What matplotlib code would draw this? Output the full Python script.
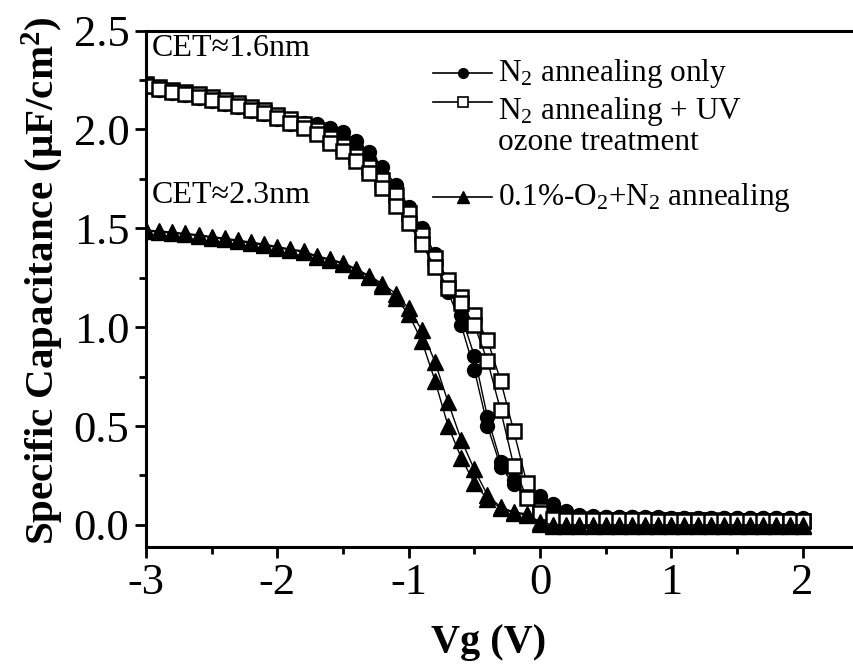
import numpy as np
import matplotlib.pyplot as plt

plt.rcParams['font.family'] = ['Liberation Serif', 'DejaVu Serif']
plt.rcParams['mathtext.fontset'] = 'custom'
plt.rcParams['mathtext.rm'] = 'Liberation Serif'
plt.rcParams['mathtext.it'] = 'Liberation Serif:italic'
plt.rcParams['mathtext.bf'] = 'Liberation Serif:bold'

# gate voltage sweep (V)
vg = [-3.0, -2.9, -2.8, -2.7, -2.6, -2.5, -2.4, -2.3, -2.2, -2.1,
      -2.0, -1.9, -1.8, -1.7, -1.6, -1.5, -1.4, -1.3, -1.2, -1.1,
      -1.0, -0.9, -0.8, -0.7, -0.6, -0.5, -0.4, -0.3, -0.2, -0.1,
      0.0, 0.1, 0.2, 0.3, 0.4, 0.5, 0.6, 0.7, 0.8, 0.9,
      1.0, 1.1, 1.2, 1.3, 1.4, 1.5, 1.6, 1.7, 1.8, 1.9, 2.0]

# N2 annealing only (two sweep directions)
n2_a = [2.225, 2.21, 2.195, 2.185, 2.175, 2.16, 2.145, 2.13, 2.11, 2.095,
        2.07, 2.05, 2.035, 2.03, 2.005, 1.985, 1.94, 1.885, 1.81, 1.72,
        1.61, 1.50, 1.37, 1.23, 1.06, 0.855, 0.545, 0.32, 0.225, 0.18,
        0.145, 0.105, 0.07, 0.052, 0.045, 0.042, 0.04, 0.04, 0.038, 0.038,
        0.037, 0.037, 0.036, 0.036, 0.035, 0.035, 0.035, 0.034, 0.034, 0.034, 0.033]
n2_b = [2.215, 2.20, 2.185, 2.175, 2.16, 2.145, 2.13, 2.115, 2.095, 2.08,
        2.055, 2.03, 2.01, 2.01, 1.98, 1.955, 1.91, 1.85, 1.77, 1.68,
        1.58, 1.465, 1.33, 1.18, 1.01, 0.785, 0.50, 0.295, 0.205, 0.16,
        0.125, 0.09, 0.06, 0.047, 0.042, 0.04, 0.038, 0.038, 0.037, 0.036,
        0.036, 0.035, 0.035, 0.035, 0.034, 0.034, 0.034, 0.033, 0.033, 0.033, 0.032]

# N2 annealing + UV ozone treatment
uv_a = [2.23, 2.215, 2.20, 2.19, 2.18, 2.165, 2.15, 2.135, 2.115, 2.10,
        2.075, 2.055, 2.03, 1.995, 1.955, 1.915, 1.865, 1.81, 1.745, 1.67,
        1.575, 1.465, 1.35, 1.24, 1.155, 1.06, 0.935, 0.73, 0.475, 0.21,
        0.075, 0.035, 0.03, 0.028, 0.026, 0.025, 0.025, 0.024, 0.024, 0.023,
        0.023, 0.022, 0.022, 0.022, 0.021, 0.021, 0.021, 0.02, 0.02, 0.02, 0.02]
uv_b = [2.22, 2.205, 2.19, 2.18, 2.165, 2.15, 2.135, 2.12, 2.10, 2.085,
        2.06, 2.035, 2.01, 1.975, 1.93, 1.89, 1.84, 1.78, 1.705, 1.615,
        1.525, 1.42, 1.305, 1.20, 1.12, 1.01, 0.83, 0.58, 0.30, 0.135,
        0.06, 0.03, 0.027, 0.025, 0.024, 0.023, 0.023, 0.022, 0.022, 0.021,
        0.021, 0.021, 0.02, 0.02, 0.02, 0.019, 0.019, 0.019, 0.018, 0.018, 0.018]

# 0.1%-O2+N2 annealing
o2_a = [1.49, 1.487, 1.48, 1.474, 1.467, 1.458, 1.45, 1.44, 1.43, 1.42,
        1.407, 1.395, 1.385, 1.36, 1.345, 1.325, 1.295, 1.26, 1.22, 1.17,
        1.095, 0.985, 0.825, 0.62, 0.43, 0.28, 0.15, 0.09, 0.065, 0.055,
        0.015, 0.0, 0.0, 0.0, 0.0, 0.0, 0.0, 0.0, 0.0, 0.0,
        0.0, 0.0, 0.0, 0.0, 0.0, 0.0, 0.0, 0.0, 0.0, 0.0, 0.0]
o2_b = [1.485, 1.482, 1.475, 1.469, 1.462, 1.453, 1.445, 1.435, 1.425, 1.415,
        1.402, 1.39, 1.38, 1.355, 1.34, 1.32, 1.29, 1.255, 1.21, 1.15,
        1.065, 0.93, 0.73, 0.50, 0.34, 0.21, 0.13, 0.085, 0.06, 0.05,
        0.005, -0.005, -0.005, -0.005, -0.005, -0.005, -0.005, -0.005, -0.005, -0.005,
        -0.005, -0.005, -0.005, -0.005, -0.005, -0.005, -0.005, -0.005, -0.005, -0.005, -0.005]

labels = ['N$_2$ annealing only',
          'N$_2$ annealing + UV\nozone treatment',
          '0.1%-O$_2$+N$_2$ annealing']

fig = plt.figure(figsize=(8.54, 6.66), dpi=100)
ax = fig.add_axes([0.171, 0.179, 0.835, 0.775])

circ = dict(marker='o', ms=10, mfc='k', mec='k', color='k', lw=1)
sq = dict(marker='s', ms=10, mfc='white', mec='k', mew=1.8, color='k', lw=1)
tri = dict(marker='^', ms=11, mfc='k', mec='k', color='k', lw=1)

for y in (n2_a, n2_b):
    ax.plot(vg, y, **circ)
for y in (uv_a, uv_b):
    ax.plot(vg, y, **sq)
for y in (o2_a, o2_b):
    ax.plot(vg, y, **tri)

ax.set_xlim(-3, 2.43)
ax.set_ylim(-0.111, 2.5)
ax.set_xticks([-3, -2, -1, 0, 1, 2])
ax.set_xticklabels(['-3', '-2', '-1', '0', '1', '2'])
ax.set_xticks([-2.5, -1.5, -0.5, 0.5, 1.5], minor=True)
ax.set_yticks([0.0, 0.5, 1.0, 1.5, 2.0, 2.5])
ax.set_yticklabels(['0.0', '0.5', '1.0', '1.5', '2.0', '2.5'])
ax.set_yticks([0.25, 0.75, 1.25, 1.75, 2.25], minor=True)
ax.tick_params(which='major', direction='out', length=8, width=2,
               labelsize=32, pad=4, top=False, right=False)
ax.tick_params(which='minor', direction='out', length=5, width=2,
               top=False, right=False)
for s in ax.spines.values():
    s.set_linewidth(2.2)
ax.spines['right'].set_visible(False)

ax.set_xlabel('Vg (V)', fontsize=29, fontweight='bold')
ax.xaxis.set_label_coords(0.48, -0.15)
ax.set_ylabel('Specific Capacitance (\u03bcF/cm$^\\mathbf{2}$)', fontsize=29.5,
              fontweight='bold')
ax.yaxis.set_label_coords(-0.112, 0.516)

ax.text(0.008, 0.965, 'CET\u22481.6nm', transform=ax.transAxes, fontsize=23,
        va='center', ha='left')
ax.text(0.008, 0.68, 'CET\u22482.3nm', transform=ax.transAxes, fontsize=23,
        va='center', ha='left')

# hand-placed legend
leg_y = [0.917, 0.861, 0.677]
leg_styles = [dict(marker='o', ms=7, mfc='k', mec='k'),
              dict(marker='s', ms=6.5, mfc='white', mec='k', mew=1.2),
              dict(marker='^', ms=8, mfc='k', mec='k')]
for yl, st, lab, dy in zip(leg_y, leg_styles, labels, [0.0, -0.045, 0.0]):
    ax.plot([0.403, 0.485], [yl, yl], color='k', lw=1.2,
            transform=ax.transAxes, clip_on=False)
    ax.plot([0.444], [yl], ls='none', transform=ax.transAxes,
            clip_on=False, **st)
    ax.text(0.494, yl + dy, lab, transform=ax.transAxes, fontsize=22.5,
            va='center', ha='left', linespacing=1.0)

fig.savefig('out.png', dpi=100)
